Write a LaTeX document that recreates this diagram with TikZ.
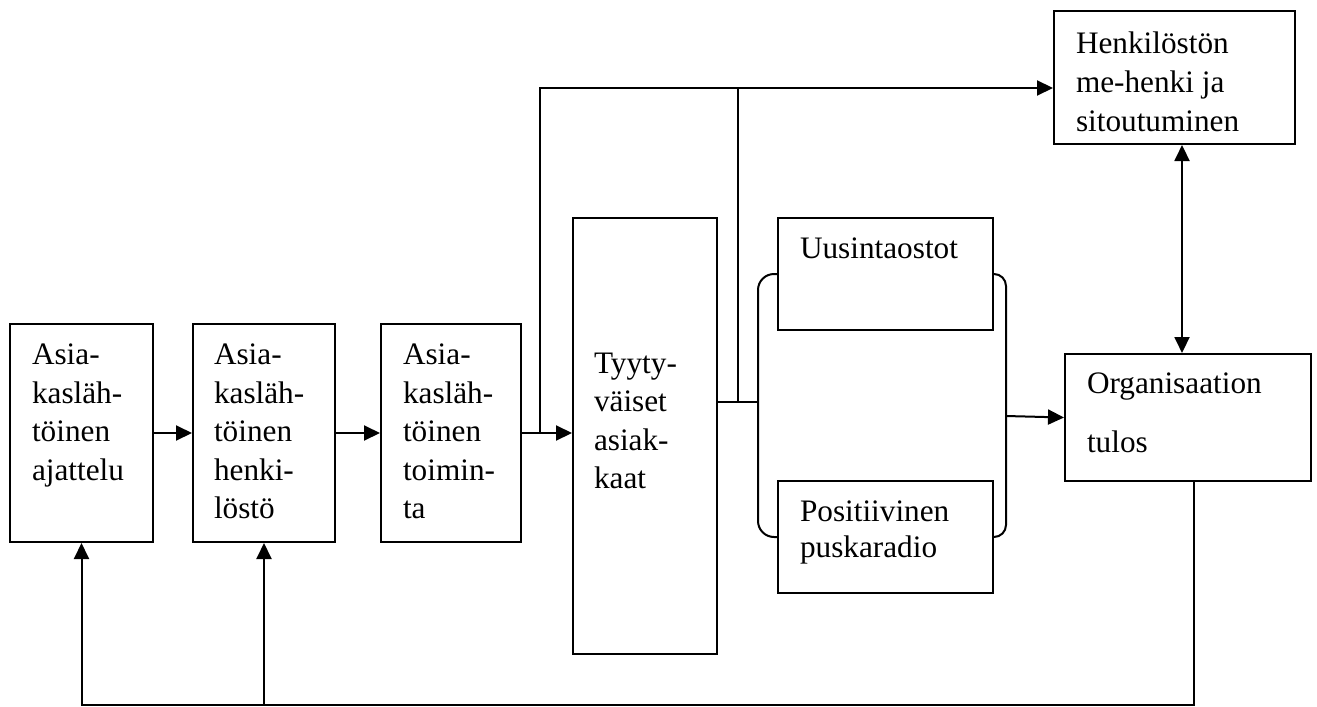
\documentclass[tikz,border=0pt]{standalone}
\usepackage{fontspec}
\setmainfont{Liberation Serif}
\usetikzlibrary{arrows.meta}
\newlength{\px}\setlength{\px}{0.4pt}

\begin{document}
\begin{tikzpicture}[x=0.4pt,y=-0.4pt,line width=0.8pt,
  >={Triangle[length=6.4pt,width=6pt]},
  box/.style={draw,anchor=north west,inner sep=0pt},
  txt/.style={anchor=north west,inner sep=0pt,align=left,font=\fontsize{12.5}{15.4}\selectfont}]
\useasboundingbox (0,0) rectangle (1317,706);
\node[box,minimum width=143*\px,minimum height=218*\px,
  label={[txt,xshift=22*\px,yshift=-20*\px]north west:Asia-\\kasläh-\\töinen\\ajattelu}] (ajattelu) at (9,323) {};
\node[box,minimum width=142*\px,minimum height=218*\px,
  label={[txt,xshift=21*\px,yshift=-20*\px]north west:Asia-\\kasläh-\\töinen\\henki-\\löstö}] (henkilosto) at (192,323) {};
\node[box,minimum width=140*\px,minimum height=218*\px,
  label={[txt,xshift=22*\px,yshift=-20*\px]north west:Asia-\\kasläh-\\töinen\\toimin-\\ta}] (toiminta) at (380,323) {};
\node[box,minimum width=144*\px,minimum height=436*\px,
  label={[txt,xshift=21*\px,yshift=-135*\px]north west:Tyyty-\\väiset\\asiak-\\kaat}] (tyytyvaiset) at (572,217) {};
\node[box,minimum width=215*\px,minimum height=112*\px,
  label={[txt,xshift=22*\px,yshift=-20*\px]north west:Uusintaostot}] (uusinta) at (777,217) {};
\node[box,minimum width=215*\px,minimum height=112*\px,
  label={[txt,xshift=22*\px,yshift=-20*\px,font=\fontsize{12.5}{14.4}\selectfont]north west:Positiivinen\\puskaradio}] (puskaradio) at (777,480) {};
\node[box,minimum width=241*\px,minimum height=133*\px,
  label={[txt,xshift=22*\px,yshift=-21*\px,font=\fontsize{12.5}{15.6}\selectfont]north west:Henkilöstön\\me-henki ja\\sitoutuminen}] (mehenki) at (1053,10) {};
\node[box,minimum width=246*\px,minimum height=127*\px,
  label={[txt,xshift=22*\px,yshift=-19*\px,font=\fontsize{12.5}{23.6}\selectfont]north west:Organisaation\\tulos}] (tulos) at (1064,353) {};

\coordinate (yla) at (540,88);
\coordinate (haara) at (758,402);
\coordinate (pysty) at (738,402);
\coordinate (oikea) at (1006,416);
\coordinate (kaksi) at (1182,0);
\coordinate (ala) at (1194,705);

\draw[->] (ajattelu.east) -- (henkilosto.west);
\draw[->] (henkilosto.east) -- (toiminta.west);
\draw[->] (toiminta.east) -- (toiminta.east -| tyytyvaiset.west);
\draw[->] (toiminta.east -| yla) -- (yla) -- (yla -| mehenki.west);
\draw (haara -| tyytyvaiset.east) -- (haara);
\draw (pysty) -- (pysty |- yla);
\draw[rounded corners=16*\px] (uusinta.west) -| (haara) |- (puskaradio.west);
\draw[rounded corners=12*\px] (uusinta.east) -| (oikea) |- (puskaradio.east);
\draw[->] (oikea) -- (tulos.west);
\draw[<->] (mehenki.south -| kaksi) -- (tulos.north -| kaksi);
\draw[->] (tulos.south -| ala) |- (ajattelu.south |- ala) -- (ajattelu.south);
\draw[->] (henkilosto.south |- ala) -- (henkilosto.south);
\end{tikzpicture}
\end{document}
